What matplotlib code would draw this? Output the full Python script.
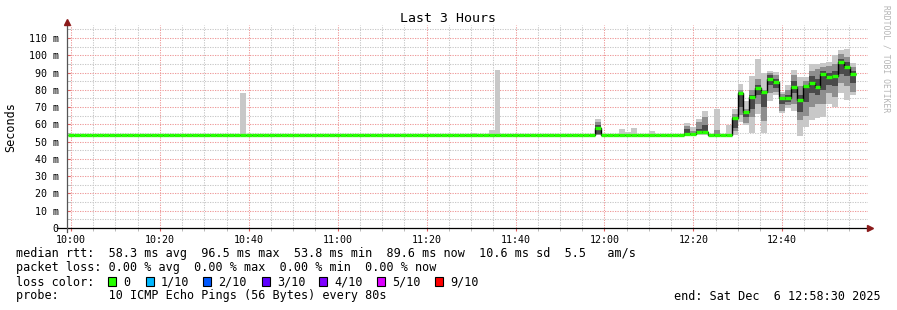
import numpy as np
import matplotlib
matplotlib.use('Agg')
import matplotlib.pyplot as plt
from matplotlib.patches import Rectangle

plt.rcParams['font.family'] = ['DejaVu Sans Mono']

# Data: 80 s steps, time in minutes since 10:00
step_min = 80 / 60
first_step = -0.72
n_steps = 133

# median rtt (ms) for every step: flat ~54 ms, blip at step 89, rise from step 112
median = ([54.0] * 89 + [57.7] + [54.0] * 14 +
          [54.4, 54.6, 55.7, 55.7, 53.8, 53.8, 53.8, 54.0, 63.9, 77.9,
           67.2, 75.7, 81.3, 78.8, 86.2, 84.3, 75.2, 75.2, 81.9, 74.0,
           82.0, 84.0, 81.8, 89.1, 87.6, 88.0, 96.0, 93.0, 89.4])

# single light smoke spikes (max ping only)
spike_step = [29, 68, 71, 72, 93, 94, 95, 98]
spike_top = [78.3, 55.0, 56.7, 91.2, 57.3, 55.5, 57.7, 56.4]

# smoke detail: outer / middle / inner ping ranges
smoke_step = [89, 104, 105, 106, 107, 109, 111, 112, 113, 114, 115, 116, 117,
              118, 119, 120, 121, 122, 123, 124, 125, 126, 127, 128, 129,
              130, 131, 132]
outer_lo = [53.8, 53.8, 53.8, 53.8, 53.8, 53.8, 53.8, 54.0, 61.6, 59.5, 55.2,
            66.0, 55.2, 73.3, 77.0, 66.8, 69.3, 68.0, 53.3, 58.7, 62.5, 63.5,
            64.0, 72.0, 70.0, 78.0, 74.0, 77.0]
outer_hi = [63.1, 60.6, 58.3, 63.1, 67.7, 68.9, 59.6, 68.7, 83.3, 73.5, 88.0,
            98.0, 89.6, 90.6, 90.2, 79.0, 82.8, 91.5, 87.6, 87.6, 95.0, 95.0,
            95.5, 96.0, 100.2, 103.0, 103.5, 95.4]
mid_lo = [54.0, 54.0, 54.0, 54.3, 54.5, 53.8, 53.8, 56.0, 65.4, 60.6, 64.0,
          72.0, 62.0, 78.0, 79.0, 68.0, 71.0, 71.5, 62.5, 65.0, 70.0, 72.0,
          72.0, 78.0, 76.0, 84.0, 82.0, 79.0]
mid_hi = [61.5, 59.0, 56.0, 61.5, 64.5, 56.5, 54.5, 66.0, 80.0, 69.0, 80.0,
          86.0, 80.0, 89.6, 88.7, 77.5, 80.0, 88.7, 82.0, 85.0, 91.0, 92.0,
          93.0, 94.0, 95.0, 101.0, 99.0, 93.0]
inner_lo = [54.2, 54.2, 54.3, 54.8, 55.0, 53.8, 53.8, 58.0, 70.0, 64.5, 69.0,
            77.0, 70.0, 82.6, 81.0, 72.0, 73.0, 78.0, 67.0, 73.0, 78.0, 77.0,
            80.0, 83.0, 82.0, 89.0, 88.0, 84.0]
inner_hi = [59.5, 57.5, 55.0, 57.5, 59.5, 54.5, 54.0, 64.5, 78.5, 68.0, 77.0,
            83.0, 79.5, 88.7, 86.0, 76.0, 77.0, 84.8, 76.7, 83.0, 88.0, 86.0,
            91.0, 90.0, 91.0, 98.0, 96.0, 91.0]

hour_ticks = [0, 20, 40, 60, 80, 100, 120, 140, 160]
hour_labels = ['10:00', '10:20', '10:40', '11:00', '11:20', '11:40',
               '12:00', '12:20', '12:40']
y_ticks = [0, 10, 20, 30, 40, 50, 60, 70, 80, 90, 100, 110]

loss_labels = ['0', '1/10', '2/10', '3/10', '4/10', '5/10', '9/10']
loss_colors = ['#26ff00', '#00b8ff', '#0059ff', '#5e00ff', '#7e00ff',
               '#dd00ff', '#ff0000']

W, H = 897, 310
fig = plt.figure(figsize=(W / 100, H / 100), dpi=100)
ax = fig.add_axes([67 / W, 82 / H, (868 - 67) / W, 203 / H])

def fx(x):
    return x / W

def fy(y):
    return 1 - y / H

edges = first_step + np.arange(n_steps + 1) * step_min

# smoke
sx = first_step + np.array(spike_step) * step_min
sb = np.array(median)[spike_step]
ax.bar(sx, np.array(spike_top) - sb, bottom=sb, width=step_min, align='edge',
       color='#c8c8c8', linewidth=0, zorder=2)

dx = first_step + np.array(smoke_step) * step_min
for lo, hi, col in [(outer_lo, outer_hi, '#c8c8c8'),
                    (mid_lo, mid_hi, '#8e8e8e'),
                    (inner_lo, inner_hi, '#4a4a4a')]:
    lo = np.array(lo)
    hi = np.array(hi)
    ax.bar(dx, hi - lo, bottom=lo, width=step_min, align='edge',
           color=col, linewidth=0, zorder=2)

# median line
ax.stairs(median, edges, baseline=None, color='black', linewidth=1.0,
          zorder=3)
ax.hlines(median, edges[:-1], edges[1:], color='#26ff00', linewidth=2.4,
          zorder=4)

ax.set_xlim(-0.9, 179.3)
ax.set_ylim(0, 117.5)

ax.set_xticks(hour_ticks)
ax.set_xticklabels(hour_labels)
ax.set_xticks(np.arange(0, 180, 5), minor=True)
ax.set_yticks(y_ticks)
ax.set_yticklabels(['0'] + ['%d m' % v for v in y_ticks[1:]])
ax.set_yticks(np.arange(5, 117, 10), minor=True)

ax.grid(which='major', color='#ef9a9a', linestyle=(0, (1.2, 1.2)),
        linewidth=0.75, zorder=1)
ax.grid(which='minor', color='#c8c8c8', linestyle=(0, (1.2, 1.2)),
        linewidth=0.75, zorder=1)
ax.set_axisbelow(True)

ax.tick_params(axis='both', which='major', labelsize=7.2, length=2,
               color='#e06060', pad=3)
ax.tick_params(axis='both', which='minor', length=2, color='#b0b0b0')
ax.tick_params(axis='y', which='both', direction='in', pad=6)

for s in ['top', 'right', 'left', 'bottom']:
    ax.spines[s].set_visible(False)

# axes with arrows
ax.plot([-0.012, 1.002], [0, 0], color='black', linewidth=0.9,
        transform=ax.transAxes, clip_on=False, zorder=5)
ax.plot(1.003, 0, marker='>', color='#8b1a1a', markersize=4,
        transform=ax.transAxes, clip_on=False, zorder=6)
ax.plot([0, 0], [-0.02, 1.012], color='#555555', linewidth=0.9,
        transform=ax.transAxes, clip_on=False, zorder=5)
ax.plot(0, 1.014, marker='^', color='#8b1a1a', markersize=4,
        transform=ax.transAxes, clip_on=False, zorder=6)

# texts
fig.text(fx(448), fy(19), 'Last 3 Hours', ha='center', va='center',
         fontsize=9.5)
fig.text(fx(11), fy(127), 'Seconds', ha='center', va='center', fontsize=8.5,
         rotation=90)
fig.text(fx(886), fy(59), 'RRDTOOL / TOBI OETIKER', ha='center', va='center',
         fontsize=5.8, rotation=270, color='#b4b4b4')

fs = 8.5
fig.text(fx(16), fy(254), 'median rtt:  58.3 ms avg  96.5 ms max  53.8 ms min  '
         '89.6 ms now  10.6 ms sd  5.5   am/s', va='center', fontsize=fs)
fig.text(fx(16), fy(268), 'packet loss: 0.00 % avg  0.00 % max  0.00 % min  '
         '0.00 % now', va='center', fontsize=fs)
fig.text(fx(16), fy(282), 'loss color:', va='center', fontsize=fs)
sq_left = [108, 146, 203, 262, 319, 377, 435]
for x0, lab, col in zip(sq_left, loss_labels, loss_colors):
    fig.add_artist(Rectangle((fx(x0), fy(286)), 8 / W, 9 / H,
                             facecolor=col, edgecolor='black', linewidth=0.8,
                             transform=fig.transFigure))
    fig.text(fx(x0 + 15), fy(282), lab, va='center', fontsize=fs)
fig.text(fx(16), fy(296), 'probe:       10 ICMP Echo Pings (56 Bytes) every 80s',
         va='center', fontsize=fs)
fig.text(fx(881), fy(296), 'end: Sat Dec  6 12:58:30 2025', va='center',
         ha='right', fontsize=fs)

fig.savefig('out.png', dpi=100)
